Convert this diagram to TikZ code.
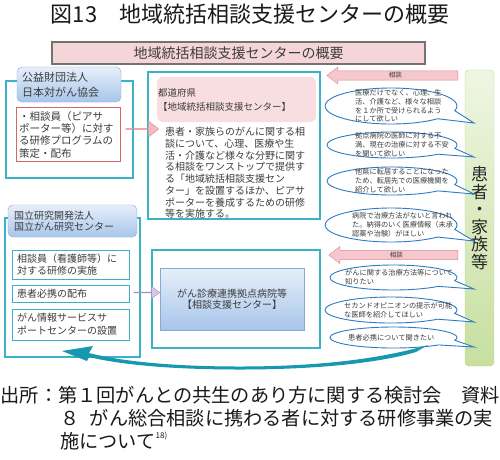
\documentclass[tikz,border=0pt]{standalone}
\usepackage{fontspec}
\setmainfont{Noto Sans CJK JP}
\usetikzlibrary{shapes.arrows,calc}
\definecolor{framec}{HTML}{3BB3C6}
\definecolor{tabtop}{HTML}{E6EFFA}
\definecolor{tabbot}{HTML}{A8C5EA}
\definecolor{tabline}{HTML}{86AAD6}
\definecolor{redline}{HTML}{D8646C}
\definecolor{headpink}{HTML}{F6D5D8}
\definecolor{pinkfill}{HTML}{F3BAC1}
\definecolor{pinkline}{HTML}{DD8791}
\definecolor{softpink}{HTML}{F8DEE1}
\definecolor{lilac}{HTML}{DCC3E8}
\definecolor{lilacline}{HTML}{A98BC2}
\definecolor{greentop}{HTML}{EFF6E3}
\definecolor{greenbot}{HTML}{C7DF9F}
\definecolor{greenline}{HTML}{B5D58C}
\definecolor{bubblec}{HTML}{2E7BC4}
\definecolor{arrowteal}{HTML}{1798AE}
\definecolor{ink}{HTML}{3C3C3C}
\newcommand\fsz[2]{\fontsize{#1}{#2}\selectfont}
\tikzset{
  frame/.style = {draw=framec, line width=1.2pt},
  headbox/.style = {draw=black!55, line width=1.6pt, fill=headpink,
    font=\fsz{14}{16}, text=ink},
  tabbox/.style = {draw=tabline, rounded corners=5pt, top color=tabtop,
    bottom color=tabbot, align=left, text=ink},
  redbox/.style = {draw=redline, line width=1pt, fill=white, align=left,
    inner xsep=3pt, text width=98pt, font=\fsz{10.5}{12.3}, text=ink},
  smallbox/.style = {draw=framec, line width=1pt, fill=white, align=left,
    inner xsep=5pt, text width=107pt, minimum width=117pt,
    font=\fsz{10}{12}, text=ink},
  prefbox/.style = {fill=softpink, rounded corners=6pt, align=left,
    inner xsep=1pt, text width=157pt, text=ink},
  hospbox/.style = {draw=tabline, top color=tabtop, bottom color=tabbot,
    align=center, text=ink},
  bodytext/.style = {inner sep=0pt, align=left, text=ink},
  pinkarrow/.style = {single arrow, draw=pinkline, fill=pinkfill,
    inner sep=0pt, single arrow tip angle=76, single arrow head extend=4pt},
  lilacarrow/.style = {single arrow, draw=lilacline, fill=lilac,
    inner sep=0pt, single arrow tip angle=74, single arrow head extend=3pt},
  consult/.style = {single arrow, shape border rotate=180, draw=pinkline,
    fill=pinkfill!80!white, inner xsep=0pt, inner ysep=1pt,
    single arrow tip angle=75, single arrow head extend=3.5pt,
    font=\fsz{6.5}{7}, text=ink},
  familybox/.style = {draw=greenline, rounded corners=4pt, top color=greentop,
    bottom color=greenbot, align=center, font=\fsz{17}{17.5}, text=black!85},
  bubbleline/.style = {draw=bubblec, line width=0.9pt, fill=white},
  bubbletext/.style = {inner sep=0pt, align=left, font=\fsz{7.2}{8.8}, text=ink},
  caption/.style = {inner sep=0pt, font=\fsz{19.2}{23}, text=black!90}
}
% speech bubble: name, cx, cy, rx, ry, text x, text
\newcommand\bubble[7]{%
  \draw[bubbleline] (#2,#3) ++(45:#4 and #5)
    arc[start angle=45, end angle=375, x radius=#4, y radius=#5]
    -- (474,#3+#5-1) -- cycle;
  \node[bubbletext, anchor=west] (#1) at (#6,#3) {#7};
}

\begin{document}
\begin{tikzpicture}[x=1pt,y=-1pt]
  \useasboundingbox (0,0) rectangle (500,459);
  % title
  \node[font=\fsz{22}{26}, text=black!90] (title) at (250,14)
    {図13　地域統括相談支援センターの概要};
  \node[headbox, minimum width=373pt, minimum height=22pt] (head) at (238.5,53)
    {地域統括相談支援センターの概要};
  % frames
  \draw[frame] (6,81) rectangle (133,178);
  \draw[frame] (148,72) rectangle (320,219);
  \draw[frame] (5,218) rectangle (140,357);
  \draw[frame] (152,250) rectangle (320,348);
  % japan cancer society
  \node[tabbox, minimum width=104pt, minimum height=35pt, inner xsep=5pt,
    text width=94pt, font=\fsz{11}{15}] (jcs) at (69,84.5)
    {公益財団法人\\日本対がん協会};
  \node[redbox, minimum height=53pt] (peer) at (68,134.5)
    {・相談員（ピアサ\\ポーター等）に対す\\る研修プログラムの\\策定・配布};
  % prefecture
  \node[prefbox, minimum width=159pt, minimum height=45pt, font=\fsz{9.5}{14}]
    (pref) at (236.5,99.5) {都道府県\\【地域統括相談支援センター】};
  \node[bodytext, anchor=west, font=\fsz{10}{11.7}] (prefwork) at (165,173)
    {患者・家族らのがんに関する相\\談について、心理、医療や生\\活・介護など様々な分野に関す\\る相談をワンストップで提供す\\る「地域統括相談支援セン\\ター」を設置するほか、ピアサ\\ポーターを養成するための研修\\等を実施する。};
  \node[pinkarrow, minimum height=33pt, minimum width=16pt, anchor=tail]
    (arrowA) at ($(peer.east)+(5,-5.5)$) {};
  % national cancer center
  \node[tabbox, minimum width=129pt, minimum height=32pt, inner xsep=6pt,
    text width=117pt, font=\fsz{10}{11.5}] (ncc) at (72.5,221)
    {国立研究開発法人\\国立がん研究センター};
  \node[smallbox, minimum height=29pt] (train) at (70.5,264.5)
    {相談員（看護師等）に\\対する研修の実施};
  \node[smallbox, minimum height=17pt] (guide) at (70.5,293.5) {患者必携の配布};
  \node[smallbox, minimum height=31pt, font=\fsz{10}{13}] (info) at (70.5,324.5)
    {がん情報サービスサ\\ポートセンターの設置};
  \node[lilacarrow, minimum height=26pt, minimum width=12pt, anchor=tail]
    (arrowB) at ($(guide.east)+(4,-1)$) {};
  % designated hospitals
  \node[hospbox, minimum width=144pt, minimum height=62pt, font=\fsz{10}{11.5}]
    (hosp) at (232,299) {がん診療連携拠点病院等\\【相談支援センター】};
  % patients and families
  \node[familybox, minimum width=29pt, minimum height=296pt] (family)
    at (479.5,218) {患\\者\\・\\家\\族\\等};
  \node[consult, minimum height=131pt, minimum width=17pt, anchor=tail]
    (ask1) at (458,75.5) {相談};
  \node[consult, minimum height=129pt, minimum width=17pt, anchor=tail]
    (ask2) at (458,255) {相談};
  % voices
  \bubble{v1}{391}{106}{66}{18}{355}{医療だけでなく、心理、生\\活、介護など、様々な相談\\を１か所で受けられるよう\\にして欲しい}
  \bubble{v2}{392}{145}{65}{13}{355}{拠点病院の医師に対する不\\満、現在の治療に対する不安\\を聞いて欲しい}
  \bubble{v3}{392}{181}{65}{14}{355}{他県に転居することになった\\ため、転居先での医療機関を\\紹介して欲しい}
  \bubble{v4}{391}{225}{66}{17}{352}{病院で治療方法がないと言われ\\た。納得のいく医療情報（未承\\認薬や治験）がほしい}
  \bubble{v5}{393.5}{277.5}{63.5}{12.5}{345}{がんに関する治療方法等について\\知りたい}
  \bubble{v6}{391}{310}{66}{13}{344}{セカンドオピニオンの提示が可能\\な医師を紹介してほしい}
  \bubble{v7}{393.5}{337.5}{63.5}{10.5}{348}{患者必携について聞きたい}
  % return arrow
  \fill[arrowteal] (428,345) .. controls (370,362) and (300,366.5) .. (240,366.5)
    .. controls (170,366.5) and (120,361) .. (89,353)
    -- (93,346) -- (62,351) -- (87,361) -- (89,357)
    .. controls (120,364.5) and (170,369.5) .. (240,369.5)
    .. controls (310,369.5) and (375,364) .. (416,352) -- cycle;
  % source
  \node[caption, anchor=west] (src1) at (0.5,395)
    {出所：第１回がんとの共生のあり方に関する検討会　資料};
  \node[caption, anchor=west] (src2) at (60,418)
    {８\hspace{0.55em}がん総合相談に携わる者に対する研修事業の実};
  \node[caption, anchor=west] (src3) at (60,441)
    {施について\raisebox{0.5em}{\fsz{8}{9}18)}};
\end{tikzpicture}
\end{document}
